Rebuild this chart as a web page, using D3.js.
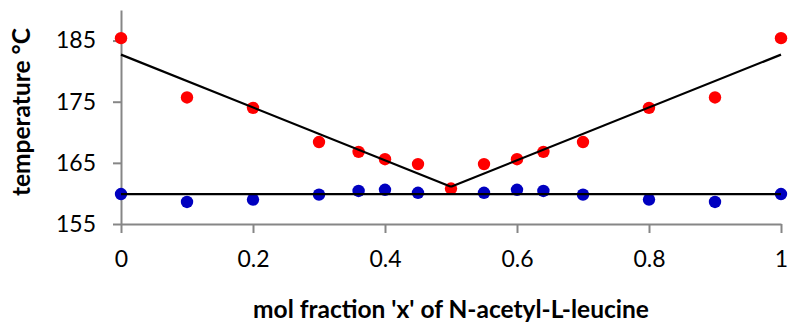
<!DOCTYPE html>
<html>
<head>
<meta charset="utf-8">
<script src="https://cdn.jsdelivr.net/npm/d3@7"></script>
<style>
  body { margin: 0; background: #fff; }
  svg text { font-family: Lato, "Open Sans", sans-serif; fill: #000; }
</style>
</head>
<body>
<svg id="chart" width="790" height="330"></svg>
<script>
// liquidus (red) and eutectic (blue) measurements
const liquidusX = [0, 0.1, 0.2, 0.3, 0.36, 0.4, 0.45, 0.5, 0.55, 0.6, 0.64, 0.7, 0.8, 0.9, 1];
const liquidusT = [185.4, 175.7, 174.0, 168.4, 166.8, 165.6, 164.8, 160.8, 164.8, 165.6, 166.8, 168.4, 174.0, 175.7, 185.4];

const eutecticX = [0, 0.1, 0.2, 0.3, 0.36, 0.4, 0.45, 0.55, 0.6, 0.64, 0.7, 0.8, 0.9, 1];
const eutecticT = [159.9, 158.6, 159.0, 159.8, 160.4, 160.6, 160.1, 160.1, 160.6, 160.4, 159.8, 159.0, 158.6, 159.9];

// fitted lines
const leftFitX = [0, 0.5];
const leftFitT = [182.7, 161.1];
const rightFitX = [0.5, 1];
const rightFitT = [161.1, 182.7];
const flatFitX = [0, 1];
const flatFitT = [159.9, 159.9];

const xTicks = [0, 0.2, 0.4, 0.6, 0.8, 1];
const yTicks = [155, 165, 175, 185];

const margin = {left: 121, right: 9, top: 10, bottom: 106};
const width = 790;
const height = 330;

const svg = d3.select('#chart');

const xScale = d3.scaleLinear()
    .domain([0, 1])
    .range([margin.left, width - margin.right]);

const yScale = d3.scaleLinear()
    .domain([155, 190])
    .range([height - margin.bottom, margin.top]);

const axisColor = '#868686';

// x axis
const xAxis = svg.append('g')
    .attr('transform', `translate(0, ${yScale(155)})`)
    .call(d3.axisBottom(xScale)
        .tickValues(xTicks)
        .tickSize(9)
        .tickSizeOuter(0)
        .tickPadding(18)
        .tickFormat(d => d3.format('')(d)));
xAxis.select('.domain').attr('stroke', axisColor).attr('stroke-width', 2);
xAxis.selectAll('line').attr('stroke', axisColor).attr('stroke-width', 2);
xAxis.selectAll('text').attr('font-size', 23);

// y axis
const yAxis = svg.append('g')
    .attr('transform', `translate(${xScale(0)}, 0)`)
    .call(d3.axisLeft(yScale)
        .tickValues(yTicks)
        .tickSize(8)
        .tickSizeOuter(0)
        .tickPadding(17));
yAxis.select('.domain').attr('stroke', axisColor).attr('stroke-width', 2);
yAxis.selectAll('line').attr('stroke', axisColor).attr('stroke-width', 2);
yAxis.selectAll('text').attr('font-size', 23);

// points
const red = liquidusX.map((x, i) => [x, liquidusT[i]]);
const blue = eutecticX.map((x, i) => [x, eutecticT[i]]);

svg.append('g')
    .selectAll('circle')
    .data(blue)
    .enter()
    .append('circle')
    .attr('cx', d => xScale(d[0]))
    .attr('cy', d => yScale(d[1]))
    .attr('r', 6.2)
    .attr('fill', '#0000C0');

svg.append('g')
    .selectAll('circle')
    .data(red)
    .enter()
    .append('circle')
    .attr('cx', d => xScale(d[0]))
    .attr('cy', d => yScale(d[1]))
    .attr('r', 6.2)
    .attr('fill', '#FF0000');

// fit lines
const line = d3.line()
    .x(d => xScale(d[0]))
    .y(d => yScale(d[1]));

[[leftFitX, leftFitT], [rightFitX, rightFitT], [flatFitX, flatFitT]].forEach(([xs, ts]) => {
    svg.append('path')
        .datum(xs.map((x, i) => [x, ts[i]]))
        .attr('d', line)
        .attr('fill', 'none')
        .attr('stroke', '#000')
        .attr('stroke-width', 2.2);
});

// axis titles
svg.append('text')
    .attr('x', (xScale(0) + xScale(1)) / 2)
    .attr('y', 318)
    .attr('text-anchor', 'middle')
    .attr('font-size', 24.5)
    .attr('font-weight', 'bold')
    .text("mol fraction 'x' of N-acetyl-L-leucine");

svg.append('text')
    .attr('transform', `translate(30, 112) rotate(-90)`)
    .attr('text-anchor', 'middle')
    .attr('font-size', 24.5)
    .attr('font-weight', 'bold')
    .text('temperature °C');
</script>
</body>
</html>
